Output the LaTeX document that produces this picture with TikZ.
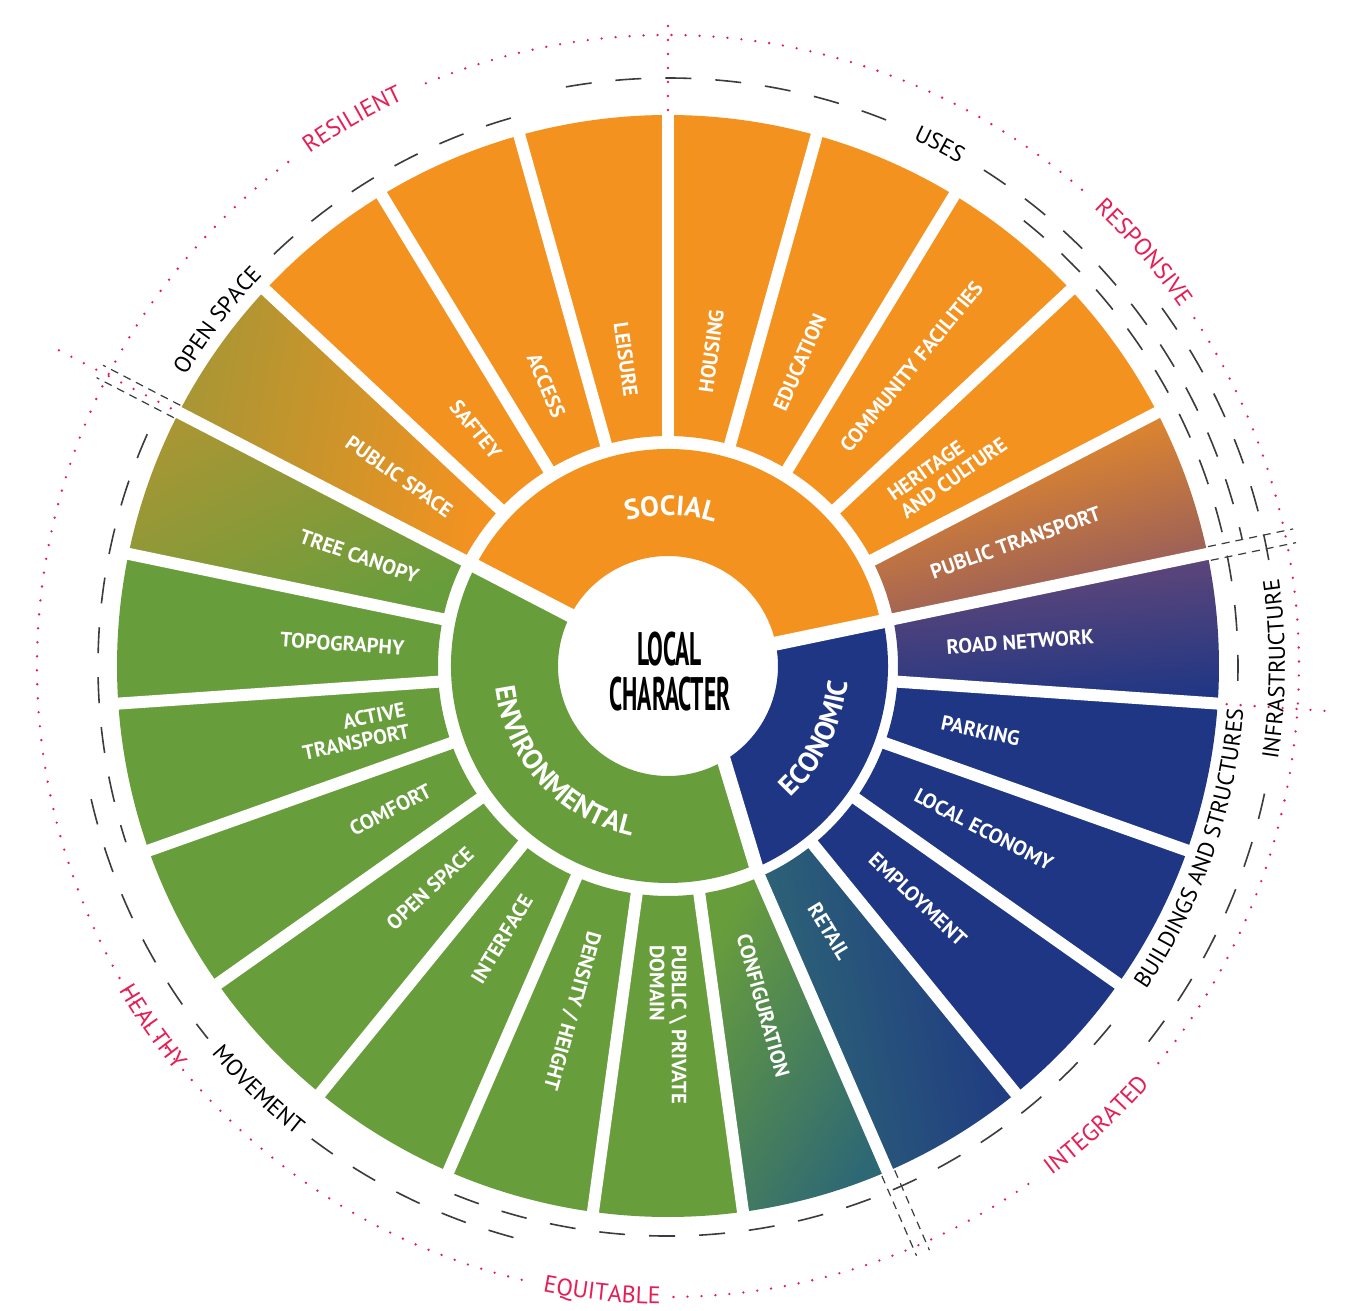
\documentclass[tikz,border=0pt]{standalone}
\usepackage{fontspec}
\setsansfont{PT Sans}
\renewcommand{\familydefault}{\sfdefault}
\usepackage{graphicx}
\usepackage{tikz}
\usetikzlibrary{decorations.text}

\definecolor{socialorange}{RGB}{244,146,32}
\definecolor{envgreen}{RGB}{104,157,60}
\definecolor{econblue}{RGB}{30,54,132}
\definecolor{mossolive}{RGB}{168,150,52}
\definecolor{mauve}{RGB}{138,86,100}
\definecolor{plum}{RGB}{104,72,120}
\definecolor{deepteal}{RGB}{46,104,116}
\definecolor{pinkred}{RGB}{230,30,85}
\definecolor{dashgray}{RGB}{60,60,60}

\newcommand\wedgeat[2]{(#1:230) arc[start angle=#1, end angle=#2, radius=230] -- (#2:551) arc[start angle=#2, end angle=#1, radius=551] -- cycle}
\newcommand\catfont{\color{white}\bfseries\fontsize{14}{14}\selectfont}
\newcommand\groupfont{\color{black}\fontsize{11.5}{11.5}\selectfont}
\newcommand\valuefont{\color{pinkred}\fontsize{12}{12}\selectfont}

\tikzset{
  segtext/.style={text=white, font=\bfseries\fontsize{10.3}{11}\selectfont, inner sep=0pt},
  outward/.style={segtext, anchor=west, rotate=#1},
  inward/.style={segtext, anchor=east, rotate=#1+180},
  gapline/.style={white, line width=6pt},
  grouparc/.style={dashgray, line width=0.8pt, dash pattern=on 13pt off 12pt},
  splitline/.style={dashgray, line width=0.6pt, dash pattern=on 4pt off 3pt},
  reddots/.style={pinkred, line width=1.3pt, line cap=round, dash pattern=on 0pt off 7pt},
  arctext/.style={decorate, decoration={text along path, text align=center, text={#1}}},
}

\begin{document}
\begin{tikzpicture}[x=0.5pt, y=0.5pt]
        \fill[white] (-668,-644) rectangle (695,666);
        \useasboundingbox (-668,-644) rectangle (695,666);

        % Inner ring
        \fill[socialorange] (11.74:110) -- (11.74:217) arc[start angle=11.74, end angle=152.6, radius=217]
            -- (152.6:110) arc[start angle=152.6, end angle=11.74, radius=110] -- cycle;
        \fill[envgreen] (152.6:110) -- (152.6:217) arc[start angle=152.6, end angle=293.48, radius=217]
            -- (-58:110) arc[start angle=302, end angle=152.6, radius=110] -- cycle;
        \fill[econblue] (-58:110) -- (-66.52:220) arc[start angle=-66.52, end angle=11.74, radius=220]
            -- (11.74:110) arc[start angle=11.74, end angle=-58, radius=110] -- cycle;

        % Social segments
        \fill[socialorange] \wedgeat{27.3913}{136.9565};
        \shade[top color=socialorange, bottom color=mauve, shading angle=15] \wedgeat{11.7391}{27.3913};
        \shade[top color=mossolive, bottom color=socialorange, shading angle=80] \wedgeat{136.9565}{152.6087};

        % Economic segments
        \fill[econblue] \wedgeat{-50.8696}{-3.9130};
        \shade[top color=plum, bottom color=econblue, shading angle=5] \wedgeat{-3.9130}{11.7391};
        \shade[top color=deepteal, bottom color=econblue, shading angle=100] \wedgeat{-66.5217}{-50.8696};

        % Environmental segments
        \fill[envgreen] \wedgeat{-191.7391}{-82.1739};
        \shade[top color=deepteal, bottom color=envgreen, shading angle=-120] \wedgeat{-82.1739}{-66.5217};
        \shade[top color=mossolive, bottom color=envgreen, shading angle=25] \wedgeat{152.6087}{168.2609};

        % Gaps
        \foreach \k in {0,...,22}
            \draw[gapline] ({90-\k*360/23}:224) -- ({90-\k*360/23}:560);
        \draw[gapline, line width=7pt] (11.74:100) -- (11.74:226);
        \draw[gapline, line width=7pt] (152.6:100) -- (152.6:226);
        \draw[gapline, line width=7pt] (-58:100) -- (-66.52:226);

        % Centre
        \node[align=center, font=\bfseries\fontsize{23.5}{22.5}\selectfont] (core) at (2,-6)
            {\scalebox{0.5}[1]{LOCAL}\\\scalebox{0.5}[1]{CHARACTER}};

        % Categories
        \path[arctext={|\catfont|SOCIAL}] (140:151) arc[start angle=140, end angle=38, radius=151];
        \path[arctext={|\catfont|ENVIRONMENTAL}] (160:174) arc[start angle=160, end angle=285, radius=174];
        \path[arctext={|\catfont|ECONOMIC}] (-70:180) arc[start angle=-70, end angle=18, radius=180];

        % Segment labels
        \node[outward=82.17] (housing) at (82.17:276) {HOUSING};
        \node[outward=66.52] (education) at (66.52:279) {EDUCATION};
        \node[outward=50.87] (community) at (50.87:279) {COMMUNITY FACILITIES};
        \node[outward=35.22, align=left] (heritage) at (35.22:279) {HERITAGE\\AND CULTURE};
        \node[outward=19.57] (transport) at (19.57:279) {PUBLIC TRANSPORT};
        \node[outward=3.91] (road) at (3.91:279) {ROAD NETWORK};
        \node[outward=-11.74] (parking) at (-11.74:279) {PARKING};
        \node[outward=-27.39] (economy) at (-27.39:279) {LOCAL ECONOMY};
        \node[outward=-43.04] (employment) at (-43.04:279) {EMPLOYMENT};
        \node[outward=-58.70] (retail) at (-58.70:279) {RETAIL};
        \node[outward=-74.35] (configuration) at (-74.35:279) {CONFIGURATION};
        \node[outward=-90, align=left] (domain) at (-90:279) {PUBLIC \textbackslash{} PRIVATE\\DOMAIN};
        \node[outward=-105.65] (density) at (-105.65:276) {DENSITY / HEIGHT};
        \node[inward=-121.30] (interface) at (-121.30:270) {INTERFACE};
        \node[inward=-136.96] (openspace) at (-136.96:270) {OPEN SPACE};
        \node[inward=-152.61] (comfort) at (-152.61:268) {COMFORT};
        \node[inward=-168.26, align=right] (active) at (-168.26:266) {ACTIVE\\TRANSPORT};
        \node[inward=-183.91] (topography) at (-183.91:264) {TOPOGRAPHY};
        \node[inward=-199.57] (canopy) at (-199.57:265) {TREE CANOPY};
        \node[inward=-215.22] (publicspace) at (-215.22:266) {PUBLIC SPACE};
        \node[inward=-230.87] (saftey) at (-230.87:270) {SAFTEY};
        \node[inward=-246.52] (access) at (-246.52:272) {ACCESS};
        \node[inward=-262.17] (leisure) at (-262.17:272) {LEISURE};

        % Group arcs
        \draw[grouparc] (106:570) arc[start angle=106, end angle=135.5, radius=570];
        \draw[grouparc] (156:570) arc[start angle=156, end angle=198, radius=570];
        \path[arctext={|\groupfont|OPEN SPACE}] (170:563) arc[start angle=170, end angle=115, radius=563];
        \draw[grouparc] (100:588) arc[start angle=100, end angle=66.5, radius=588];
        \draw[grouparc] (57.5:588) arc[start angle=57.5, end angle=12.5, radius=588];
        \path[arctext={|\groupfont|USES}] (85:581) arc[start angle=85, end angle=40, radius=581];
        \draw[grouparc] (193:592) arc[start angle=193, end angle=219, radius=592];
        \draw[grouparc] (233:592) arc[start angle=233, end angle=257, radius=592];
        \path[arctext={|\groupfont|MOVEMENT}] (-160:599) arc[start angle=-160, end angle=-108, radius=599];
        \draw[grouparc] (-112:570) arc[start angle=-112, end angle=-37, radius=570];
        \draw[grouparc] (-1.5:570) arc[start angle=-1.5, end angle=52, radius=570];
        \path[arctext={|\groupfont|BUILDINGS AND STRUCTURES}] (-60:577) arc[start angle=-60, end angle=21.6, radius=577];
        \draw[grouparc] (-38:610) arc[start angle=-38, end angle=-10.5, radius=610];
        \draw[grouparc] (10:610) arc[start angle=10, end angle=38, radius=610];
        \path[arctext={|\groupfont|INFRASTRUCTURE}] (-30:617) arc[start angle=-30, end angle=29.4, radius=617];

        % Splits
        \foreach \a in {152.6, 11.74, -66.52} {
            \draw[splitline, rotate=\a] (553,7) -- (640,7);
            \draw[splitline, rotate=\a] (553,-7) -- (640,-7);
        }

        % Values
        \draw[reddots] (90:556) -- (90:650);
        \draw[reddots] (152.6:560) -- (152.6:690);
        \draw[reddots] (-3.91:560) -- (-3.91:670);
        \draw[reddots] (-139:631) arc[start angle=-139, end angle=-103, radius=631];
        \draw[reddots] (-89.5:631) arc[start angle=-89.5, end angle=-54.5, radius=631];
        \draw[reddots] (-39:631) arc[start angle=-39, end angle=33.5, radius=631];
        \draw[reddots] (49:631) arc[start angle=49, end angle=113, radius=631];
        \draw[reddots] (127:631) arc[start angle=127, end angle=221, radius=631];
        \path[arctext={|\valuefont|RESILIENT}] (150:625) arc[start angle=150, end angle=90, radius=625];
        \path[arctext={|\valuefont|RESPONSIVE}] (70:625) arc[start angle=70, end angle=12, radius=625];
        \path[arctext={|\valuefont|INTEGRATED}] (-77:638) arc[start angle=-77, end angle=-17, radius=638];
        \path[arctext={|\valuefont|EQUITABLE}] (-126:638) arc[start angle=-126, end angle=-66, radius=638];
        \path[arctext={|\valuefont|HEALTHY}] (-175:638) arc[start angle=-175, end angle=-115, radius=638];
\end{tikzpicture}
\end{document}
